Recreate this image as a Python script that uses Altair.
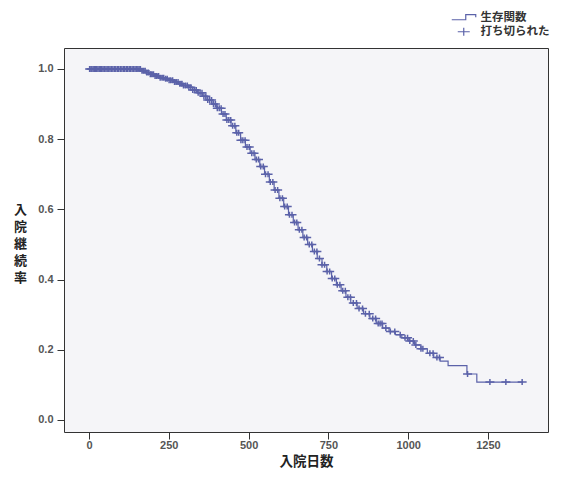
import altair as alt
import pandas as pd

# Kaplan-Meier step curve (days, survival)
step_days = [0, 165, 178, 190, 205, 220, 235, 250, 265, 280, 295, 310, 325, 340,
             355, 370, 385, 400, 415, 430, 445, 460, 475, 490, 505, 520, 535, 550,
             565, 580, 595, 610, 625, 640, 655, 670, 685, 700, 715, 730, 745, 760,
             775, 790, 805, 820, 840, 860, 880, 900, 920, 940, 960, 980, 1000, 1020,
             1040, 1060, 1080, 1100, 1125, 1184, 1215, 1360]
step_surv = [1.0, 0.995, 0.99, 0.985, 0.98, 0.975, 0.972, 0.968, 0.963, 0.958, 0.953,
             0.948, 0.94, 0.932, 0.922, 0.912, 0.9, 0.888, 0.872, 0.855, 0.838, 0.818,
             0.797, 0.778, 0.76, 0.742, 0.722, 0.7, 0.678, 0.655, 0.632, 0.608, 0.585,
             0.563, 0.542, 0.52, 0.5, 0.48, 0.46, 0.442, 0.423, 0.403, 0.385, 0.368,
             0.35, 0.333, 0.318, 0.303, 0.289, 0.275, 0.262, 0.252, 0.243, 0.234,
             0.225, 0.214, 0.203, 0.19, 0.178, 0.168, 0.155, 0.131, 0.108, 0.108]

# censored observations (days)
censor_days = [2, 6, 9, 13, 17, 21, 24, 28, 32, 36, 40, 44, 48, 53, 57, 62, 66, 71, 75,
               80, 84, 89, 93, 98, 103, 108, 112, 117, 121, 126, 130, 135, 139, 144,
               148, 153, 157, 161,
               166, 171, 176, 181, 186, 192, 197, 202, 207, 212, 218, 223, 229, 234,
               240, 245, 251, 256, 262, 268, 273, 279, 285, 291, 296, 302, 308, 313,
               319, 325, 331, 336, 342, 348, 354, 360, 366, 372, 378, 384, 390, 396,
               402, 408, 414, 420, 426, 432, 438, 444, 450, 457, 463, 469, 476, 482,
               489, 495,
               502, 510, 517, 524, 531, 538, 546, 553, 561, 568, 576, 583, 591, 598,
               606, 613, 621, 628, 636, 644, 651, 659, 667, 674, 682, 690, 698, 706,
               714, 722, 730, 738, 746, 754, 762, 770, 778, 786, 795, 803, 811, 819,
               828, 838, 846, 857, 866, 878, 889, 898, 906, 912, 918, 930, 944, 958,
               975, 990, 998, 1005, 1016, 1024, 1040, 1046, 1068, 1078, 1090, 1098,
               1186, 1256, 1306, 1357]

legend_names = ["生存関数", "打ち切られた"]
x_ticks = [0, 250, 500, 750, 1000, 1250]
y_ticks = [0.0, 0.2, 0.4, 0.6, 0.8, 1.0]

COLOR = "#5b62a9"

steps = pd.DataFrame({"day": step_days, "surv": step_surv})
cens = pd.DataFrame({"day": censor_days})
cens = pd.merge_asof(cens.sort_values("day"), steps, on="day")
cens["kind"] = legend_names[1]

xscale = alt.Scale(domain=[-78.3, 1438], nice=False, zero=False)
yscale = alt.Scale(domain=[-0.0342, 1.0598], nice=False, zero=False)

xaxis = alt.Axis(values=x_ticks, format="d", title="入院日数", grid=False, domain=False,
                 tickSize=7, tickColor="#333", labelPadding=0,
                 labelFont="Liberation Sans", labelFontSize=11, labelFontWeight="bold",
                 labelColor="#555", titleFont="Noto Sans CJK JP", titleFontSize=13.5,
                 titleFontWeight="bold", titleColor="#222", titleY=29,
                 titleBaseline="middle")
yaxis = alt.Axis(values=y_ticks, format=".1f", title=["入", "院", "継", "続", "率"],
                 grid=False, domain=False, tickSize=7, tickColor="#333",
                 labelPadding=4, labelFont="Liberation Sans", labelFontSize=11,
                 labelFontWeight="bold", labelColor="#555",
                 titleFont="Noto Sans CJK JP", titleFontSize=13, titleFontWeight="bold",
                 titleColor="#222", titleAngle=0, titleX=-44, titleY=161,
                 titleAlign="center", titleBaseline="middle", titleLineHeight=17)

line = alt.Chart(steps).mark_line(interpolate="step-after", color=COLOR,
                                  strokeWidth=1.2).encode(
    x=alt.X("day:Q", scale=xscale, axis=xaxis),
    y=alt.Y("surv:Q", scale=yscale, axis=yaxis),
)

step_glyph = "M-3,0.5H0.5V-0.8H3V-0.1"
plus_glyph = "M-1.5,0H1.5M0,-1V1"

points = alt.Chart(cens).mark_point(filled=False, size=36, strokeWidth=1.5,
                                    color=COLOR, opacity=1).encode(
    x=alt.X("day:Q", scale=xscale),
    y=alt.Y("surv:Q", scale=yscale),
    shape=alt.Shape("kind:N",
                    scale=alt.Scale(domain=legend_names, range=[step_glyph, plus_glyph]),
                    legend=alt.Legend(
                        title=None, orient="none", legendX=394, legendY=-36,
                        padding=0, rowPadding=1,
                        labelFont="Noto Sans CJK JP", labelFontSize=11.5,
                        labelFontWeight="bold", labelColor="#333",
                        labelOffset=11, symbolStrokeColor=COLOR,
                        symbolFillColor="transparent",
                        symbolStrokeWidth=1.2, symbolSize=64)),
)

chart = (line + points).properties(
    width=484, height=384,
    autosize=alt.AutoSizeParams(type="none"),
    padding={"left": 56, "top": 40, "right": 6, "bottom": 36},
    background="white",
).configure_view(fill="#f5f5f8", stroke="#333", strokeWidth=1)

chart.save("out.html", embed_options={"renderer": "svg", "actions": False})
